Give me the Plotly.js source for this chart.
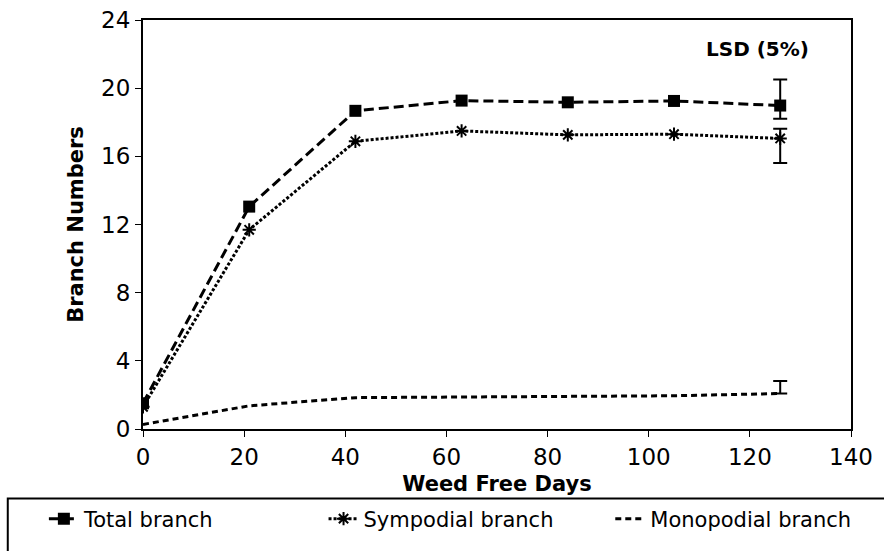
<!DOCTYPE html>
<html>
<head>
<meta charset="utf-8">
<script src="https://cdn.plot.ly/plotly-3.0.1.min.js"></script>
<style>
  body { margin: 0; background: #fff; }
  #chart { width: 884px; height: 551px; }
</style>
</head>
<body>
<div id="chart"></div>
<script>
// weed free days
var days = [0, 21, 42, 63, 84, 105, 126];

// branch numbers per series
var totalBranch = [1.51, 13.05, 18.67, 19.27, 19.17, 19.25, 18.98];
var sympodialBranch = [1.3, 11.69, 16.88, 17.49, 17.26, 17.30, 17.05];
var monopodialBranch = [0.27, 1.36, 1.84, 1.89, 1.9, 1.95, 2.08];

// LSD (5%) bars, only at the last harvest
var totalLsdUp = [NaN, NaN, NaN, NaN, NaN, NaN, 1.53];
var totalLsdDown = [NaN, NaN, NaN, NaN, NaN, NaN, 0.77];
var sympLsdUp = [NaN, NaN, NaN, NaN, NaN, NaN, 0.57];
var sympLsdDown = [NaN, NaN, NaN, NaN, NaN, NaN, 1.44];
var monoLsdUp = [NaN, NaN, NaN, NaN, NaN, NaN, 0.73];
var monoLsdDown = [NaN, NaN, NaN, NaN, NaN, NaN, 0];

var fontFam = "DejaVu Sans, Verdana, sans-serif";

function lsd(up, down) {
    return {type: "data", symmetric: false, array: up, arrayminus: down,
        color: "#000", thickness: 2, width: 7};
}

var total = {
    x: days, y: totalBranch, name: "Total branch", mode: "lines+markers",
    line: {color: "#000", width: 3, dash: "10px,5px"},
    marker: {symbol: "square", size: 12, color: "#000"},
    error_y: lsd(totalLsdUp, totalLsdDown),
    legend: "legend"
};
var symp = {
    x: days, y: sympodialBranch, name: "Sympodial branch", mode: "lines+markers",
    line: {color: "#000", width: 3, dash: "3px,2px"},
    marker: {symbol: "asterisk-open", size: 11, color: "#000", line: {color: "#000", width: 2}},
    error_y: lsd(sympLsdUp, sympLsdDown),
    legend: "legend2"
};
var mono = {
    x: days, y: monopodialBranch, name: "Monopodial branch", mode: "lines",
    line: {color: "#000", width: 3, dash: "6px,4px"},
    error_y: lsd(monoLsdUp, monoLsdDown),
    legend: "legend3"
};
var data = [total, symp, mono];

function leg(x) {
    return {x: x, y: -0.22, xanchor: "left", yanchor: "middle",
        orientation: "h", bgcolor: "rgba(0,0,0,0)", borderwidth: 0,
        font: {family: fontFam, size: 21, color: "#000"}};
}

var layout = {
    width: 884, height: 551,
    margin: {l: 143, r: 33, t: 20, b: 113},
    paper_bgcolor: "#fff", plot_bgcolor: "#fff",
    font: {family: fontFam, color: "#000"},
    showlegend: true,
    legend: leg(-0.14),
    legend2: leg(0.255),
    legend3: leg(0.66),
    xaxis: {
        range: [0, 140], tickvals: [0, 20, 40, 60, 80, 100, 120, 140],
        showgrid: false, zeroline: false, showline: true, mirror: true,
        linecolor: "#000", linewidth: 2, ticks: "outside", ticklen: 6, tickcolor: "#000",
        tickfont: {family: fontFam, size: 23, color: "#000"},
        title: {text: "<b>Weed Free Days</b>", font: {family: fontFam, size: 21, color: "#000"}, standoff: 8},
        automargin: false
    },
    yaxis: {
        range: [0, 24], tickvals: [0, 4, 8, 12, 16, 20, 24],
        showgrid: false, zeroline: false, showline: true, mirror: true,
        linecolor: "#000", linewidth: 2, ticks: "outside", ticklen: 6, tickcolor: "#000",
        tickfont: {family: fontFam, size: 23, color: "#000"},
        title: {text: "<b>Branch Numbers</b>", font: {family: fontFam, size: 21, color: "#000"}, standoff: 12},
        automargin: false
    },
    annotations: [{
        x: 121.5, y: 22.3, xref: "x", yref: "y", showarrow: false,
        text: "<b>LSD (5%)</b>", font: {family: fontFam, size: 20, color: "#000"}
    }],
    shapes: [{
        type: "rect", xref: "paper", yref: "paper",
        x0: -0.191, x1: 1.1, y0: -0.17, y1: -0.4,
        line: {color: "#000", width: 2}
    }]
};

Plotly.newPlot("chart", data, layout, {staticPlot: true});
</script>
</body>
</html>
